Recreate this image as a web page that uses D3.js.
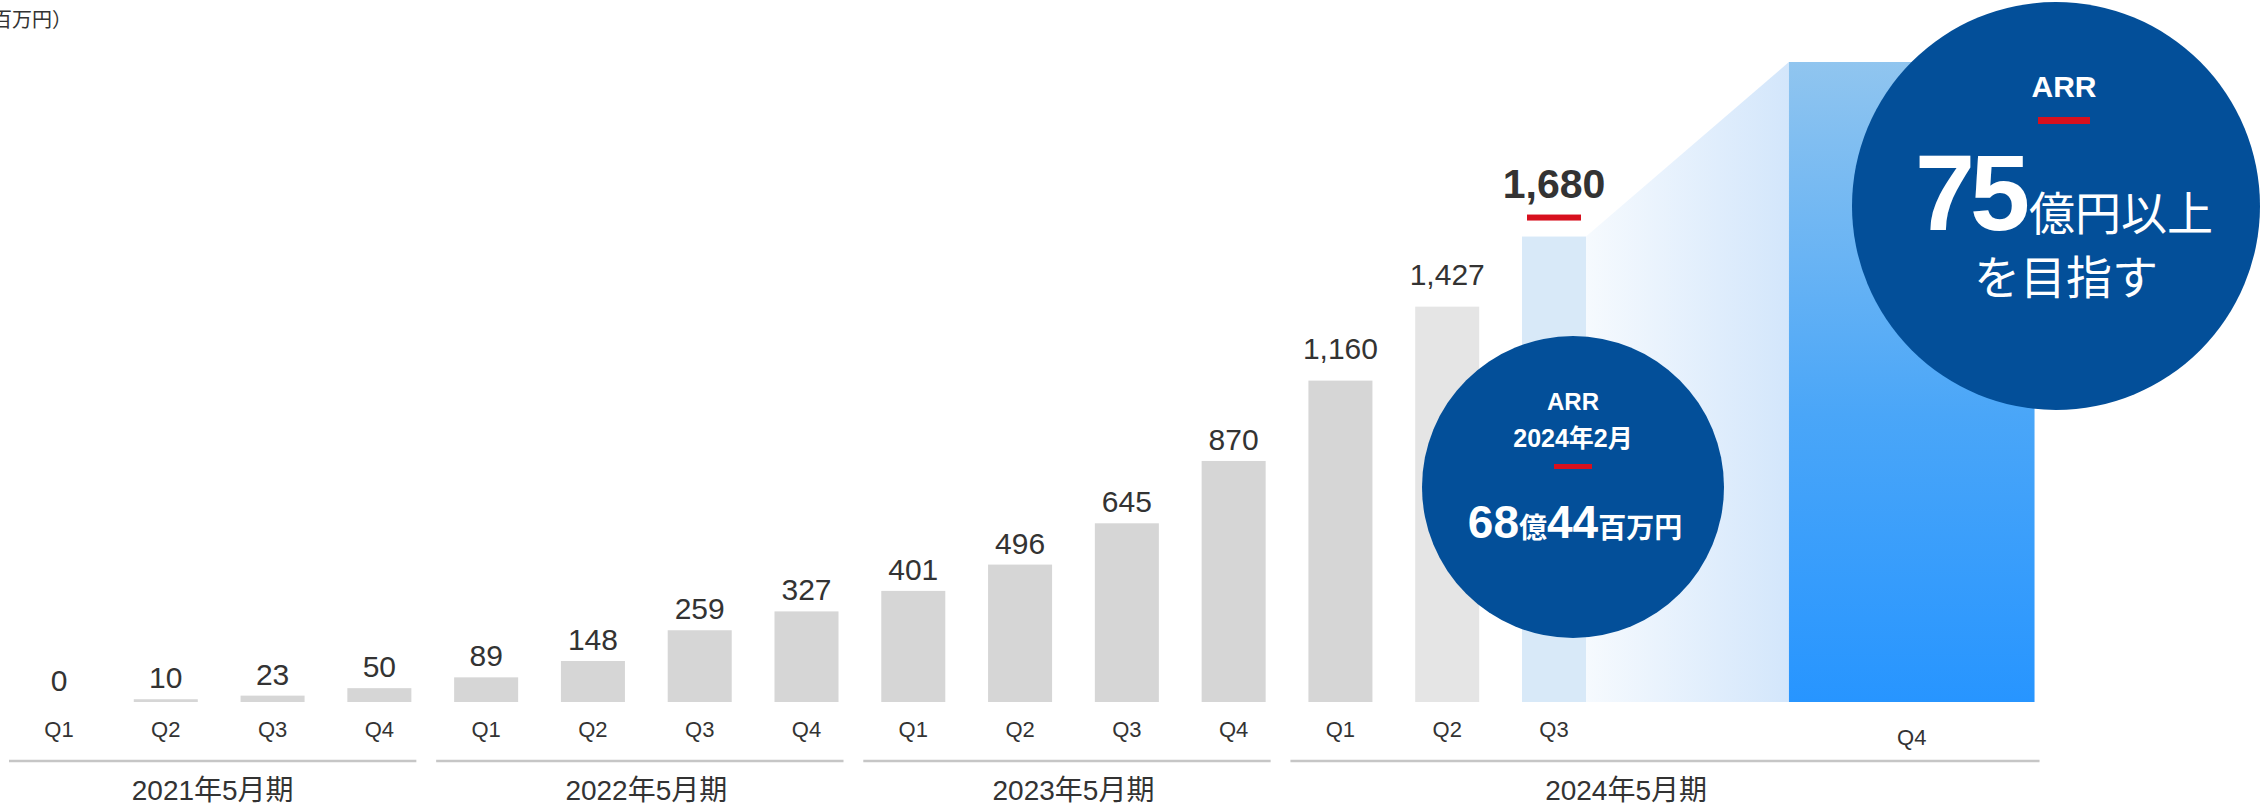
<!DOCTYPE html>
<html>
<head>
<meta charset="utf-8">
<script src="https://cdn.jsdelivr.net/npm/d3@7"></script>
<style>
  body { margin: 0; background: #fff; }
  text { font-family: "Liberation Sans", Arial, "Noto Sans CJK JP", sans-serif; }
</style>
</head>
<body>
<div id="chart"></div>
<script>
var svgWidth = 2267;
var svgHeight = 806;

// data (百万円)
var fiscalYears = ["2021年5月期", "2022年5月期", "2023年5月期", "2024年5月期"];
var quarterLabels = ["Q1", "Q2", "Q3", "Q4", "Q1", "Q2", "Q3", "Q4",
                     "Q1", "Q2", "Q3", "Q4", "Q1", "Q2", "Q3"];
var yearIndex = [0, 0, 0, 0, 1, 1, 1, 1, 2, 2, 2, 2, 3, 3, 3];
var arrValues = [0, 10, 23, 50, 89, 148, 259, 327, 401, 496, 645, 870, 1160, 1427, 1680];
var targetLabel = "Q4";
var unitLabel = "（百万円）";

var latestNote = ["ARR", "2024年2月"];
var latestBig = [["68", "億"], ["44", "百万円"]];
var targetNote = "ARR";
var targetBig = ["75", "億円以上"];
var targetLine2 = "を目指す";

// the target bar is drawn to the top of the plot (not to scale)
var plotMax = 2310;

var baseline = 702;
var barWidth = 64;
var textColor = "#333333";
var red = "#d7101e";
var navy = "#034f99";

var svg = d3.select("#chart")
  .append("svg")
  .attr("width", svgWidth)
  .attr("height", svgHeight);

var defs = svg.append("defs");

var fade = defs.append("linearGradient")
  .attr("id", "fade")
  .attr("x1", "0%").attr("x2", "100%").attr("y1", "0%").attr("y2", "0%");
fade.append("stop").attr("offset", "0%").attr("stop-color", "#f6fafe");
fade.append("stop").attr("offset", "100%").attr("stop-color", "#d3e6fb");

var blue = defs.append("linearGradient")
  .attr("id", "targetFill")
  .attr("x1", "0%").attr("x2", "0%").attr("y1", "0%").attr("y2", "100%");
blue.append("stop").attr("offset", "0%").attr("stop-color", "#90c5ef");
blue.append("stop").attr("offset", "55%").attr("stop-color", "#4aa6f8");
blue.append("stop").attr("offset", "100%").attr("stop-color", "#2795ff");

// scales: one slot per quarter, target sits after a gap
var x = d3.scaleLinear().domain([0, 14]).range([59, 1554]);
var y = d3.scaleLinear().domain([0, plotMax]).range([baseline, 62]);
var targetSlot = [16.2, 18.5];
var targetLeft = x(targetSlot[0]);
var targetRight = x(targetSlot[1]);
var targetCenter = (targetLeft + targetRight) / 2;
var last = arrValues.length - 1;

function barColor(i) {
  if (i === last) return "#d8e9f8";
  if (i === last - 1) return "#e5e5e5";
  return "#d6d6d6";
}

// unit (clipped at the left edge like the slide)
svg.append("text")
  .attr("x", 72)
  .attr("y", 27)
  .attr("text-anchor", "end")
  .attr("font-size", 20)
  .attr("fill", textColor)
  .text(unitLabel);

// light trapezoid leading to the target
var lastRight = x(last) + barWidth / 2;
svg.append("path")
  .attr("d", d3.line()([
    [lastRight, y(arrValues[last])],
    [targetLeft, y(plotMax)],
    [targetLeft, baseline],
    [lastRight, baseline]
  ]) + "Z")
  .attr("fill", "url(#fade)");

// bars
svg.selectAll("rect.bar")
  .data(arrValues)
  .enter()
  .append("rect")
  .attr("class", "bar")
  .attr("x", (d, i) => x(i) - barWidth / 2)
  .attr("y", d => y(d))
  .attr("width", barWidth)
  .attr("height", d => baseline - y(d))
  .attr("fill", (d, i) => barColor(i));

// target bar
svg.append("rect")
  .attr("x", targetLeft)
  .attr("y", y(plotMax))
  .attr("width", targetRight - targetLeft)
  .attr("height", baseline - y(plotMax))
  .attr("fill", "url(#targetFill)");

// value labels (current year sits a little higher)
var fmt = d3.format(",");
function labelOffset(i) {
  if (i === last) return 39;
  if (yearIndex[i] === 3) return 22;
  return 11;
}
svg.selectAll("text.value")
  .data(arrValues)
  .enter()
  .append("text")
  .attr("class", "value")
  .attr("x", (d, i) => x(i))
  .attr("y", (d, i) => y(d) - labelOffset(i))
  .attr("text-anchor", "middle")
  .attr("font-size", (d, i) => i === last ? 41 : 30)
  .attr("font-weight", (d, i) => i === last ? "bold" : "normal")
  .attr("fill", textColor)
  .text(d => fmt(d));

svg.append("rect")
  .attr("x", x(last) - 27)
  .attr("y", y(arrValues[last]) - 22)
  .attr("width", 54)
  .attr("height", 6)
  .attr("fill", red);

// quarter labels
svg.selectAll("text.quarter")
  .data(quarterLabels)
  .enter()
  .append("text")
  .attr("class", "quarter")
  .attr("x", (d, i) => x(i))
  .attr("y", 737)
  .attr("text-anchor", "middle")
  .attr("font-size", 22)
  .attr("fill", textColor)
  .text(d => d);

svg.append("text")
  .attr("x", targetCenter)
  .attr("y", 745)
  .attr("text-anchor", "middle")
  .attr("font-size", 22)
  .attr("fill", textColor)
  .text(targetLabel);

// fiscal year groups
fiscalYears.forEach(function(label, g) {
  var idx = d3.range(yearIndex.length).filter(i => yearIndex[i] === g);
  var isLast = g === fiscalYears.length - 1;
  var first = x(idx[0]);
  var lastC = isLast ? targetCenter : x(idx[idx.length - 1]);
  var lastEdge = isLast ? targetRight : lastC + barWidth / 2;
  var lineL = first - barWidth / 2 - 18;
  var lineR = lastEdge + 5;

  svg.append("line")
    .attr("x1", lineL)
    .attr("x2", lineR)
    .attr("y1", 761)
    .attr("y2", 761)
    .attr("stroke", "#c6c6c6")
    .attr("stroke-width", 2.5);

  // first group label sits under its rule, others under their bars
  var cx = g === 0 ? (lineL + lineR) / 2 : (first + lastC) / 2;
  svg.append("text")
    .attr("x", cx)
    .attr("y", 800)
    .attr("text-anchor", "middle")
    .attr("font-size", 28)
    .attr("fill", textColor)
    .text(label);
});

// callout: latest ARR
var c1 = {x: 1573, y: 487, r: 151};
svg.append("circle")
  .attr("cx", c1.x).attr("cy", c1.y).attr("r", c1.r)
  .attr("fill", navy);

svg.append("text")
  .attr("x", c1.x).attr("y", 410)
  .attr("text-anchor", "middle")
  .attr("font-size", 24).attr("font-weight", "bold")
  .attr("fill", "#fff")
  .text(latestNote[0]);

svg.append("text")
  .attr("x", c1.x).attr("y", 447)
  .attr("text-anchor", "middle")
  .attr("font-size", 25).attr("font-weight", "bold")
  .attr("fill", "#fff")
  .text(latestNote[1]);

svg.append("rect")
  .attr("x", c1.x - 19).attr("y", 464)
  .attr("width", 38).attr("height", 5)
  .attr("fill", red);

var t1 = svg.append("text")
  .attr("x", c1.x + 2).attr("y", 538)
  .attr("text-anchor", "middle")
  .attr("fill", "#fff")
  .attr("font-weight", "bold");
latestBig.forEach(function(pair) {
  t1.append("tspan").attr("font-size", 46).text(pair[0]);
  t1.append("tspan").attr("font-size", 28).text(pair[1]);
});

// callout: target ARR
var c2 = {x: 2056, y: 206, r: 204};
svg.append("circle")
  .attr("cx", c2.x).attr("cy", c2.y).attr("r", c2.r)
  .attr("fill", navy);

svg.append("text")
  .attr("x", 2064).attr("y", 97)
  .attr("text-anchor", "middle")
  .attr("font-size", 30).attr("font-weight", "bold")
  .attr("fill", "#fff")
  .text(targetNote);

svg.append("rect")
  .attr("x", 2038).attr("y", 117)
  .attr("width", 52).attr("height", 7)
  .attr("fill", red);

var t2 = svg.append("text")
  .attr("x", 2064).attr("y", 230)
  .attr("text-anchor", "middle")
  .attr("fill", "#fff");
t2.append("tspan")
  .attr("font-size", 108).attr("font-weight", "bold")
  .attr("letter-spacing", -5)
  .text(targetBig[0]);
t2.append("tspan")
  .attr("font-size", 46)
  .attr("dx", 4)
  .text(targetBig[1]);

svg.append("text")
  .attr("x", 2066).attr("y", 294)
  .attr("text-anchor", "middle")
  .attr("font-size", 46)
  .attr("fill", "#fff")
  .text(targetLine2);
</script>
</body>
</html>
